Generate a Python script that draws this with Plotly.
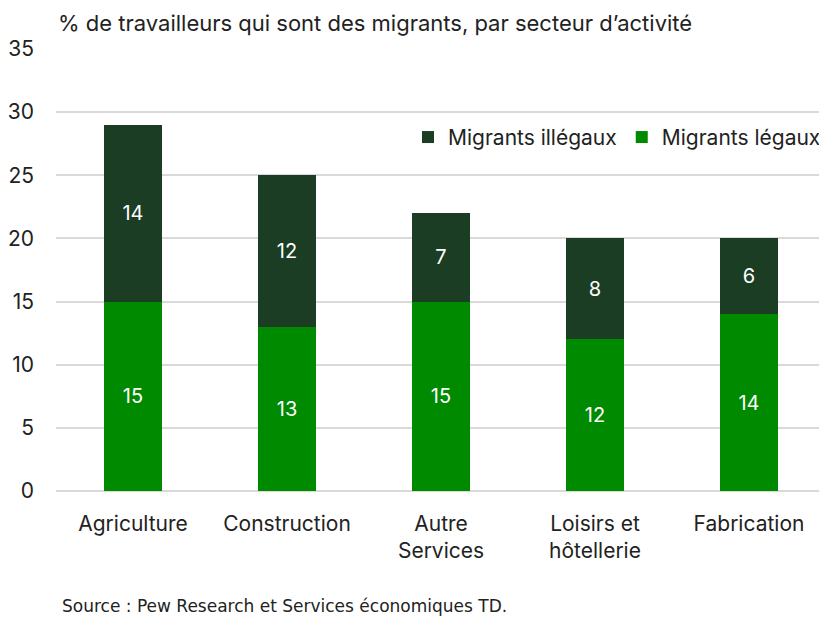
import plotly.graph_objects as go

categories = ["Agriculture", "Construction", "Autre<br>Services", "Loisirs et<br>hôtellerie", "Fabrication"]
legal = [15, 13, 15, 12, 14]
illegal = [14, 12, 7, 8, 6]
yticks = [0, 5, 10, 15, 20, 25, 30, 35]

FONT = "Inter"
TXT = "#222222"

# page body has an 8px default margin; compensate so the drawing lands where the reference does
OFF = 8

fig = go.Figure()
fig.add_trace(go.Bar(
    x=categories, y=legal, name="Migrants légaux",
    marker=dict(color="#008A00", line=dict(width=0)),
    text=[str(v) for v in legal], textposition="inside", insidetextanchor="middle",
    textfont=dict(color="white", size=20, family=FONT),
))
fig.add_trace(go.Bar(
    x=categories, y=illegal, name="Migrants illégaux",
    marker=dict(color="#1A3D24", line=dict(width=0)),
    text=[str(v) for v in illegal], textposition="inside", insidetextanchor="middle",
    textfont=dict(color="white", size=20, family=FONT),
))

fig.update_layout(
    barmode="stack",
    bargap=0.623,
    width=827 - OFF, height=617 - OFF,
    margin=dict(l=56 - OFF, r=1, t=49 - OFF, b=126),
    plot_bgcolor="white", paper_bgcolor="white",
    font=dict(family=FONT, color=TXT, size=21),
    showlegend=True,
    legend=dict(orientation="h", x=1.0, xanchor="right", y=0.80, yanchor="middle",
                traceorder="reversed", font=dict(size=21, color=TXT, family=FONT),
                itemwidth=30, bgcolor="rgba(0,0,0,0)"),
    xaxis=dict(showgrid=False, showline=False, ticks="", tickfont=dict(size=21, color=TXT),
               ticklabelstandoff=18),
    yaxis=dict(range=[0, 35], tickvals=yticks, showgrid=True, gridcolor="#d9d9d9", gridwidth=1.5,
               zeroline=True, zerolinecolor="#d9d9d9", zerolinewidth=1.5, showline=False,
               ticks="", tickfont=dict(size=21, color=TXT), ticklabelstandoff=21),
)
fig.add_annotation(text="% de travailleurs qui sont des migrants, par secteur d’activité",
                   xref="paper", yref="paper", x=0.0, y=1.0, yshift=41, xanchor="left", yanchor="top",
                   showarrow=False, font=dict(size=22, color=TXT, family=FONT))
fig.add_annotation(text="Source : Pew Research et Services économiques TD.",
                   xref="paper", yref="paper", x=0.005, y=0, yshift=-115, xanchor="left", yanchor="middle",
                   showarrow=False, font=dict(size=17, color=TXT, family="DejaVu Sans"))

fig.write_html("out.html")
